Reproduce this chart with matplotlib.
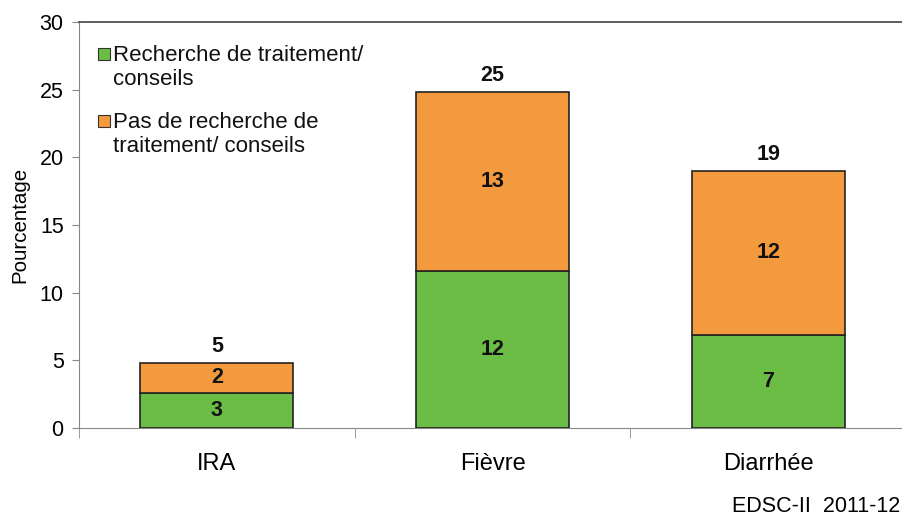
import matplotlib
matplotlib.use("Agg")
import matplotlib.pyplot as plt
import numpy as np
from matplotlib.patches import Rectangle

categories = ["IRA", "Fièvre", "Diarrhée"]
recherche = [2.6, 11.6, 6.9]
pas_recherche = [2.2, 13.2, 12.1]
series_names = ["Recherche de traitement/\nconseils", "Pas de recherche de\ntraitement/ conseils"]
yticks = [0, 5, 10, 15, 20, 25, 30]

green = "#6BBD45"
orange = "#F49A3E"
plt.rcParams['font.family'] = ['Liberation Sans', 'DejaVu Sans']

W, H = 902, 516
fig = plt.figure(figsize=(9.02, 5.16), dpi=100)
ax = fig.add_axes([79/W, 1-428/H, 1-79/W, (428-22)/H])

x = np.arange(len(categories))
w = 0.555
ax.bar(x, recherche, w, color=green, edgecolor="#222222", linewidth=1.2, zorder=3)
ax.bar(x, pas_recherche, w, bottom=recherche, color=orange, edgecolor="#222222", linewidth=1.2, zorder=3)

for i in range(len(categories)):
    g = recherche[i]; o = pas_recherche[i]; t = g + o
    ax.text(x[i], g/2, f"{round(g):d}", ha="center", va="center", fontsize=15.5, fontweight="bold", color="#111111", zorder=4)
    ax.text(x[i], g + o/2, f"{round(o):d}", ha="center", va="center", fontsize=15.5, fontweight="bold", color="#111111", zorder=4)
    ax.text(x[i], t + 0.45, f"{round(t):d}", ha="center", va="bottom", fontsize=15.5, fontweight="bold", color="#111111", zorder=4)

ax.set_ylim(0, 30)
ax.set_xlim(-0.5, 2.485)
ax.set_yticks(yticks)
ax.set_yticklabels([str(v) for v in yticks], fontsize=15.5)
ax.set_xticks(x)
ax.set_xticklabels(categories, fontsize=17)
ax.tick_params(axis="x", length=0, pad=18)
ax.set_xticks([-0.5, 0.5, 1.5], minor=True)
ax.tick_params(axis="x", which="minor", length=7, color="#888888", direction="out")
ax.tick_params(axis="y", length=5, color="#888888", direction="out", pad=6)
ax.set_ylabel("Pourcentage", fontsize=14.8, labelpad=7)

ax.spines["right"].set_visible(False)
ax.spines["top"].set_color("#444444")
ax.spines["top"].set_linewidth(1.2)
ax.spines["left"].set_color("#888888")
ax.spines["bottom"].set_color("#888888")

# legend drawn manually (marker aligned with first line, as in the reference)
leg_colors = [green, orange]
leg_baseline = [61, 128]
line_step = 24
for name, col, yb in zip(series_names, leg_colors, leg_baseline):
    yc = yb - 7
    fig.add_artist(Rectangle((98/W, 1-(yc+6)/H), 12/W, 12/H, transform=fig.transFigure,
                             facecolor=col, edgecolor="#333333", linewidth=0.8))
    for k, line in enumerate(name.split("\n")):
        fig.text(113/W, 1-(yb + k*line_step)/H, line, ha="left", va="baseline", fontsize=16, color="#111111")

fig.text(900/W, 1-506/H, "EDSC-II  2011-12", ha="right", va="center", fontsize=15.5)

fig.savefig("out.png", dpi=100)
